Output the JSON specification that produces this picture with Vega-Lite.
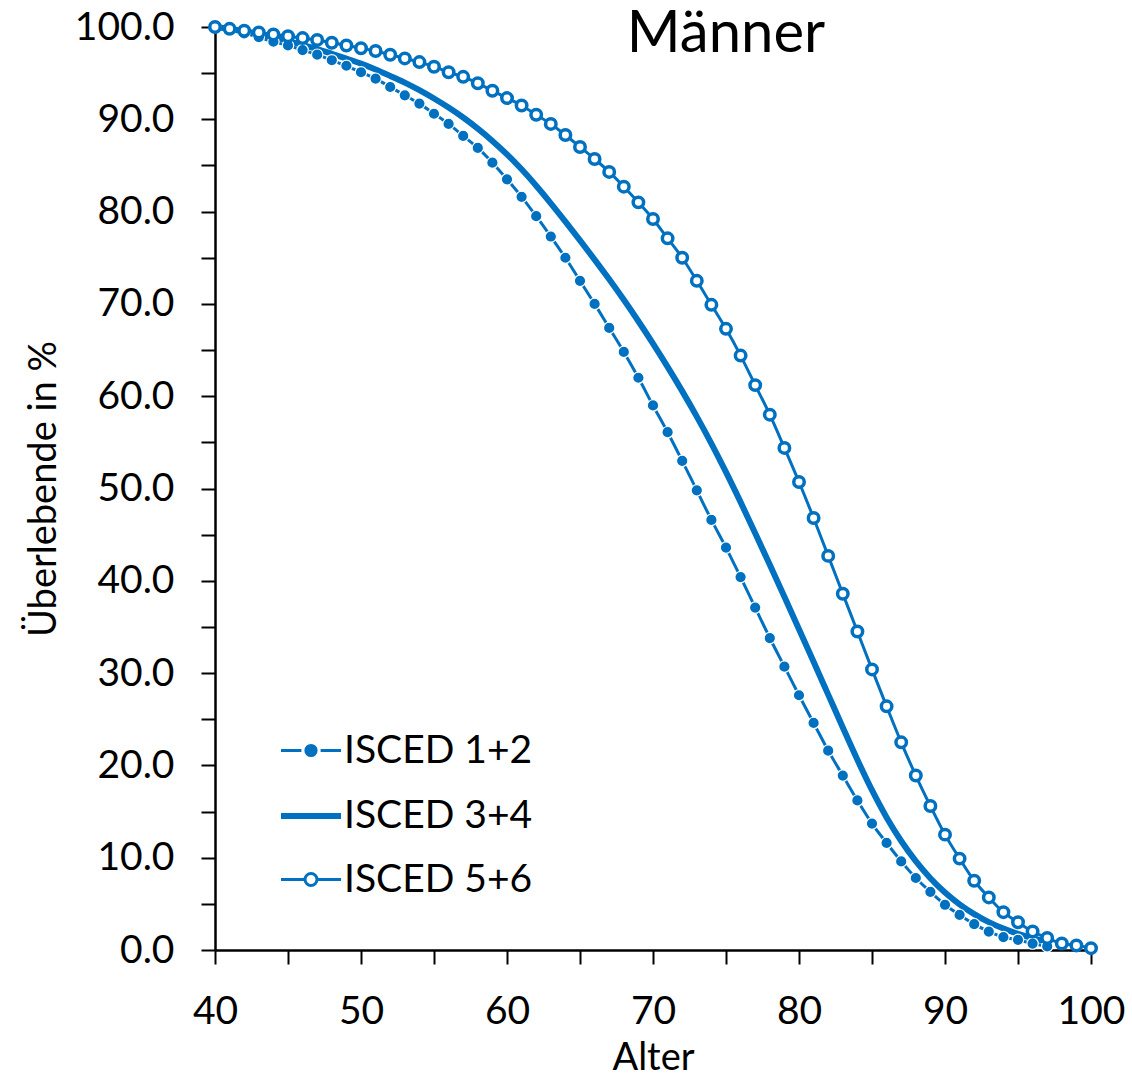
{
  "$schema": "https://vega.github.io/schema/vega-lite/v6.json",
  "autosize": {"type": "none"},
  "width": 876,
  "height": 923,
  "padding": {"left": 215, "top": 27, "right": 41, "bottom": 127},
  "background": "white",
  "title": {
    "text": "Männer",
    "font": "Lato",
    "fontSize": 58,
    "fontWeight": "normal",
    "color": "black",
    "anchor": "middle",
    "baseline": "alphabetic",
    "offset": -102,
    "dx": 73
  },
  "data": {
    "values": [
      {"age": 40, "series": "ISCED 1+2", "value": 100.0}, {"age": 41, "series": "ISCED 1+2", "value": 99.7}, {"age": 42, "series": "ISCED 1+2", "value": 99.3}, {"age": 43, "series": "ISCED 1+2", "value": 98.9}, {"age": 44, "series": "ISCED 1+2", "value": 98.4}, {"age": 45, "series": "ISCED 1+2", "value": 98.0}, {"age": 46, "series": "ISCED 1+2", "value": 97.5}, {"age": 47, "series": "ISCED 1+2", "value": 97.0}, {"age": 48, "series": "ISCED 1+2", "value": 96.4}, {"age": 49, "series": "ISCED 1+2", "value": 95.8},
      {"age": 50, "series": "ISCED 1+2", "value": 95.1}, {"age": 51, "series": "ISCED 1+2", "value": 94.4}, {"age": 52, "series": "ISCED 1+2", "value": 93.5}, {"age": 53, "series": "ISCED 1+2", "value": 92.6}, {"age": 54, "series": "ISCED 1+2", "value": 91.7}, {"age": 55, "series": "ISCED 1+2", "value": 90.6}, {"age": 56, "series": "ISCED 1+2", "value": 89.5}, {"age": 57, "series": "ISCED 1+2", "value": 88.2}, {"age": 58, "series": "ISCED 1+2", "value": 86.9}, {"age": 59, "series": "ISCED 1+2", "value": 85.3},
      {"age": 60, "series": "ISCED 1+2", "value": 83.5}, {"age": 61, "series": "ISCED 1+2", "value": 81.6}, {"age": 62, "series": "ISCED 1+2", "value": 79.5}, {"age": 63, "series": "ISCED 1+2", "value": 77.3}, {"age": 64, "series": "ISCED 1+2", "value": 75.0}, {"age": 65, "series": "ISCED 1+2", "value": 72.5}, {"age": 66, "series": "ISCED 1+2", "value": 70.0}, {"age": 67, "series": "ISCED 1+2", "value": 67.4}, {"age": 68, "series": "ISCED 1+2", "value": 64.8}, {"age": 69, "series": "ISCED 1+2", "value": 62.0},
      {"age": 70, "series": "ISCED 1+2", "value": 59.0}, {"age": 71, "series": "ISCED 1+2", "value": 56.1}, {"age": 72, "series": "ISCED 1+2", "value": 53.0}, {"age": 73, "series": "ISCED 1+2", "value": 49.8}, {"age": 74, "series": "ISCED 1+2", "value": 46.6}, {"age": 75, "series": "ISCED 1+2", "value": 43.6}, {"age": 76, "series": "ISCED 1+2", "value": 40.4}, {"age": 77, "series": "ISCED 1+2", "value": 37.1}, {"age": 78, "series": "ISCED 1+2", "value": 33.8}, {"age": 79, "series": "ISCED 1+2", "value": 30.7},
      {"age": 80, "series": "ISCED 1+2", "value": 27.6}, {"age": 81, "series": "ISCED 1+2", "value": 24.6}, {"age": 82, "series": "ISCED 1+2", "value": 21.6}, {"age": 83, "series": "ISCED 1+2", "value": 18.9}, {"age": 84, "series": "ISCED 1+2", "value": 16.2}, {"age": 85, "series": "ISCED 1+2", "value": 13.7}, {"age": 86, "series": "ISCED 1+2", "value": 11.6}, {"age": 87, "series": "ISCED 1+2", "value": 9.6}, {"age": 88, "series": "ISCED 1+2", "value": 7.8}, {"age": 89, "series": "ISCED 1+2", "value": 6.3},
      {"age": 90, "series": "ISCED 1+2", "value": 4.9}, {"age": 91, "series": "ISCED 1+2", "value": 3.8}, {"age": 92, "series": "ISCED 1+2", "value": 2.8}, {"age": 93, "series": "ISCED 1+2", "value": 2.0}, {"age": 94, "series": "ISCED 1+2", "value": 1.4}, {"age": 95, "series": "ISCED 1+2", "value": 1.1}, {"age": 96, "series": "ISCED 1+2", "value": 0.7}, {"age": 97, "series": "ISCED 1+2", "value": 0.4},

      {"age": 40, "series": "ISCED 3+4", "value": 100.0}, {"age": 41, "series": "ISCED 3+4", "value": 99.8}, {"age": 42, "series": "ISCED 3+4", "value": 99.55}, {"age": 43, "series": "ISCED 3+4", "value": 99.25}, {"age": 44, "series": "ISCED 3+4", "value": 98.9}, {"age": 45, "series": "ISCED 3+4", "value": 98.5}, {"age": 46, "series": "ISCED 3+4", "value": 98.05}, {"age": 47, "series": "ISCED 3+4", "value": 97.6}, {"age": 48, "series": "ISCED 3+4", "value": 97.1}, {"age": 49, "series": "ISCED 3+4", "value": 96.58},
      {"age": 50, "series": "ISCED 3+4", "value": 96.03}, {"age": 51, "series": "ISCED 3+4", "value": 95.4}, {"age": 52, "series": "ISCED 3+4", "value": 94.7}, {"age": 53, "series": "ISCED 3+4", "value": 93.97}, {"age": 54, "series": "ISCED 3+4", "value": 93.15}, {"age": 55, "series": "ISCED 3+4", "value": 92.25}, {"age": 56, "series": "ISCED 3+4", "value": 91.27}, {"age": 57, "series": "ISCED 3+4", "value": 90.19}, {"age": 58, "series": "ISCED 3+4", "value": 88.99}, {"age": 59, "series": "ISCED 3+4", "value": 87.66},
      {"age": 60, "series": "ISCED 3+4", "value": 86.2}, {"age": 61, "series": "ISCED 3+4", "value": 84.58}, {"age": 62, "series": "ISCED 3+4", "value": 82.8}, {"age": 63, "series": "ISCED 3+4", "value": 80.9}, {"age": 64, "series": "ISCED 3+4", "value": 78.92}, {"age": 65, "series": "ISCED 3+4", "value": 76.88}, {"age": 66, "series": "ISCED 3+4", "value": 74.8}, {"age": 67, "series": "ISCED 3+4", "value": 72.66}, {"age": 68, "series": "ISCED 3+4", "value": 70.44}, {"age": 69, "series": "ISCED 3+4", "value": 68.12},
      {"age": 70, "series": "ISCED 3+4", "value": 65.7}, {"age": 71, "series": "ISCED 3+4", "value": 63.18}, {"age": 72, "series": "ISCED 3+4", "value": 60.55}, {"age": 73, "series": "ISCED 3+4", "value": 57.79}, {"age": 74, "series": "ISCED 3+4", "value": 54.87}, {"age": 75, "series": "ISCED 3+4", "value": 51.77}, {"age": 76, "series": "ISCED 3+4", "value": 48.52}, {"age": 77, "series": "ISCED 3+4", "value": 45.16}, {"age": 78, "series": "ISCED 3+4", "value": 41.73}, {"age": 79, "series": "ISCED 3+4", "value": 38.26},
      {"age": 80, "series": "ISCED 3+4", "value": 34.76}, {"age": 81, "series": "ISCED 3+4", "value": 31.23}, {"age": 82, "series": "ISCED 3+4", "value": 27.67}, {"age": 83, "series": "ISCED 3+4", "value": 24.11}, {"age": 84, "series": "ISCED 3+4", "value": 20.61}, {"age": 85, "series": "ISCED 3+4", "value": 17.31}, {"age": 86, "series": "ISCED 3+4", "value": 14.36}, {"age": 87, "series": "ISCED 3+4", "value": 11.81}, {"age": 88, "series": "ISCED 3+4", "value": 9.63}, {"age": 89, "series": "ISCED 3+4", "value": 7.78},
      {"age": 90, "series": "ISCED 3+4", "value": 6.23}, {"age": 91, "series": "ISCED 3+4", "value": 4.95}, {"age": 92, "series": "ISCED 3+4", "value": 3.89}, {"age": 93, "series": "ISCED 3+4", "value": 3.02}, {"age": 94, "series": "ISCED 3+4", "value": 2.32}, {"age": 95, "series": "ISCED 3+4", "value": 1.75}, {"age": 96, "series": "ISCED 3+4", "value": 1.29}, {"age": 97, "series": "ISCED 3+4", "value": 0.91},

      {"age": 40, "series": "ISCED 5+6", "value": 100.0}, {"age": 41, "series": "ISCED 5+6", "value": 99.8}, {"age": 42, "series": "ISCED 5+6", "value": 99.6}, {"age": 43, "series": "ISCED 5+6", "value": 99.4}, {"age": 44, "series": "ISCED 5+6", "value": 99.2}, {"age": 45, "series": "ISCED 5+6", "value": 99.0}, {"age": 46, "series": "ISCED 5+6", "value": 98.8}, {"age": 47, "series": "ISCED 5+6", "value": 98.6}, {"age": 48, "series": "ISCED 5+6", "value": 98.3}, {"age": 49, "series": "ISCED 5+6", "value": 98.0},
      {"age": 50, "series": "ISCED 5+6", "value": 97.7}, {"age": 51, "series": "ISCED 5+6", "value": 97.4}, {"age": 52, "series": "ISCED 5+6", "value": 97.0}, {"age": 53, "series": "ISCED 5+6", "value": 96.6}, {"age": 54, "series": "ISCED 5+6", "value": 96.2}, {"age": 55, "series": "ISCED 5+6", "value": 95.7}, {"age": 56, "series": "ISCED 5+6", "value": 95.1}, {"age": 57, "series": "ISCED 5+6", "value": 94.6}, {"age": 58, "series": "ISCED 5+6", "value": 93.9}, {"age": 59, "series": "ISCED 5+6", "value": 93.1},
      {"age": 60, "series": "ISCED 5+6", "value": 92.3}, {"age": 61, "series": "ISCED 5+6", "value": 91.5}, {"age": 62, "series": "ISCED 5+6", "value": 90.5}, {"age": 63, "series": "ISCED 5+6", "value": 89.5}, {"age": 64, "series": "ISCED 5+6", "value": 88.3}, {"age": 65, "series": "ISCED 5+6", "value": 87.0}, {"age": 66, "series": "ISCED 5+6", "value": 85.7}, {"age": 67, "series": "ISCED 5+6", "value": 84.3}, {"age": 68, "series": "ISCED 5+6", "value": 82.7}, {"age": 69, "series": "ISCED 5+6", "value": 81.0},
      {"age": 70, "series": "ISCED 5+6", "value": 79.2}, {"age": 71, "series": "ISCED 5+6", "value": 77.1}, {"age": 72, "series": "ISCED 5+6", "value": 75.0}, {"age": 73, "series": "ISCED 5+6", "value": 72.5}, {"age": 74, "series": "ISCED 5+6", "value": 69.9}, {"age": 75, "series": "ISCED 5+6", "value": 67.3}, {"age": 76, "series": "ISCED 5+6", "value": 64.4}, {"age": 77, "series": "ISCED 5+6", "value": 61.2}, {"age": 78, "series": "ISCED 5+6", "value": 58.0}, {"age": 79, "series": "ISCED 5+6", "value": 54.4},
      {"age": 80, "series": "ISCED 5+6", "value": 50.7}, {"age": 81, "series": "ISCED 5+6", "value": 46.8}, {"age": 82, "series": "ISCED 5+6", "value": 42.7}, {"age": 83, "series": "ISCED 5+6", "value": 38.6}, {"age": 84, "series": "ISCED 5+6", "value": 34.5}, {"age": 85, "series": "ISCED 5+6", "value": 30.4}, {"age": 86, "series": "ISCED 5+6", "value": 26.4}, {"age": 87, "series": "ISCED 5+6", "value": 22.5}, {"age": 88, "series": "ISCED 5+6", "value": 18.9}, {"age": 89, "series": "ISCED 5+6", "value": 15.6},
      {"age": 90, "series": "ISCED 5+6", "value": 12.5}, {"age": 91, "series": "ISCED 5+6", "value": 9.9}, {"age": 92, "series": "ISCED 5+6", "value": 7.5}, {"age": 93, "series": "ISCED 5+6", "value": 5.7}, {"age": 94, "series": "ISCED 5+6", "value": 4.1}, {"age": 95, "series": "ISCED 5+6", "value": 3.0}, {"age": 96, "series": "ISCED 5+6", "value": 2.0}, {"age": 97, "series": "ISCED 5+6", "value": 1.3}, {"age": 98, "series": "ISCED 5+6", "value": 0.7}, {"age": 99, "series": "ISCED 5+6", "value": 0.5},
      {"age": 100, "series": "ISCED 5+6", "value": 0.2}
    ]
  },
  "encoding": {
    "x": {
      "field": "age",
      "type": "quantitative",
      "scale": {"domain": [40, 100], "nice": false, "zero": false},
      "axis": {
        "title": "Alter",
        "values": [40, 45, 50, 55, 60, 65, 70, 75, 80, 85, 90, 95, 100],
        "labelExpr": "datum.value % 10 === 0 ? datum.label : ''",
        "labelFlush": false,
        "labelOverlap": false,
        "tickSize": 14,
        "labelPadding": 28,
        "titlePadding": 8,
        "encode": {"ticks": {"y2": {"value": {"expr": "datum.value % 10 === 0 ? 14 : 11"}}}}
      }
    },
    "y": {
      "field": "value",
      "type": "quantitative",
      "scale": {"domain": [0, 100], "nice": false},
      "axis": {
        "title": "Überlebende in %",
        "values": [0, 5, 10, 15, 20, 25, 30, 35, 40, 45, 50, 55, 60, 65, 70, 75, 80, 85, 90, 95, 100],
        "labelExpr": "datum.value % 10 === 0 ? format(datum.value, '.1f') : ''",
        "labelFlush": false,
        "labelOverlap": false,
        "tickSize": 14,
        "labelPadding": 27,
        "titlePadding": 11,
        "encode": {"ticks": {"x2": {"value": {"expr": "datum.value % 10 === 0 ? -14 : -10"}}}}
      }
    }
  },
  "layer": [
    {
      "mark": {"type": "line", "color": "#0070C0", "interpolate": "monotone", "strokeCap": "butt"},
      "encoding": {
        "strokeWidth": {
          "field": "series",
          "type": "nominal",
          "scale": {"type": "ordinal", "domain": ["ISCED 1+2", "ISCED 3+4", "ISCED 5+6"], "range": [3, 6, 3]},
          "legend": {
            "title": null,
            "orient": "none",
            "legendX": 63,
            "legendY": 692,
            "padding": 0,
            "symbolSize": 3600,
            "symbolType": {"expr": "datum.value === 'ISCED 3+4' ? 'M-1,0H1' : (datum.value === 'ISCED 1+2' ? 'M-1,0H-0.32M0.32,0H1M-0.17,0A0.17,0.17,0,1,0,0.17,0A0.17,0.17,0,1,0,-0.17,0Z' : 'M-1,0H-0.2M0.2,0H1M-0.2,0A0.2,0.2,0,1,0,0.2,0A0.2,0.2,0,1,0,-0.2,0Z')"},
            "symbolFillColor": {"expr": "datum.value === 'ISCED 1+2' ? '#0070C0' : (datum.value === 'ISCED 5+6' ? 'white' : 'transparent')"},
            "symbolStrokeColor": "#0070C0",
            "symbolOpacity": 1,
            "rowPadding": 12,
            "labelOffset": 0,
            "labelFont": "Lato",
            "labelFontSize": 39,
            "labelColor": "black",
            "labelLimit": 400
          }
        }
      }
    },
    {
      "transform": [{"filter": "datum.series === 'ISCED 1+2'"}],
      "mark": {"type": "point", "shape": "circle", "filled": true, "fill": "#0070C0", "stroke": "white", "strokeWidth": 1.2, "size": 130, "opacity": 1}
    },
    {
      "transform": [{"filter": "datum.series === 'ISCED 5+6'"}],
      "mark": {"type": "point", "shape": "circle", "filled": true, "fill": "white", "stroke": "#0070C0", "strokeWidth": 3.5, "size": 110, "opacity": 1}
    }
  ],
  "config": {
    "view": {"stroke": null},
    "font": "Lato",
    "axis": {
      "grid": false,
      "domainColor": "black",
      "domainWidth": 2.5,
      "tickColor": "black",
      "tickWidth": 2,
      "labelFont": "Lato",
      "labelFontSize": 39,
      "labelColor": "black",
      "titleFont": "Lato",
      "titleFontSize": 38,
      "titleFontWeight": "normal",
      "titleColor": "black"
    }
  }
}
